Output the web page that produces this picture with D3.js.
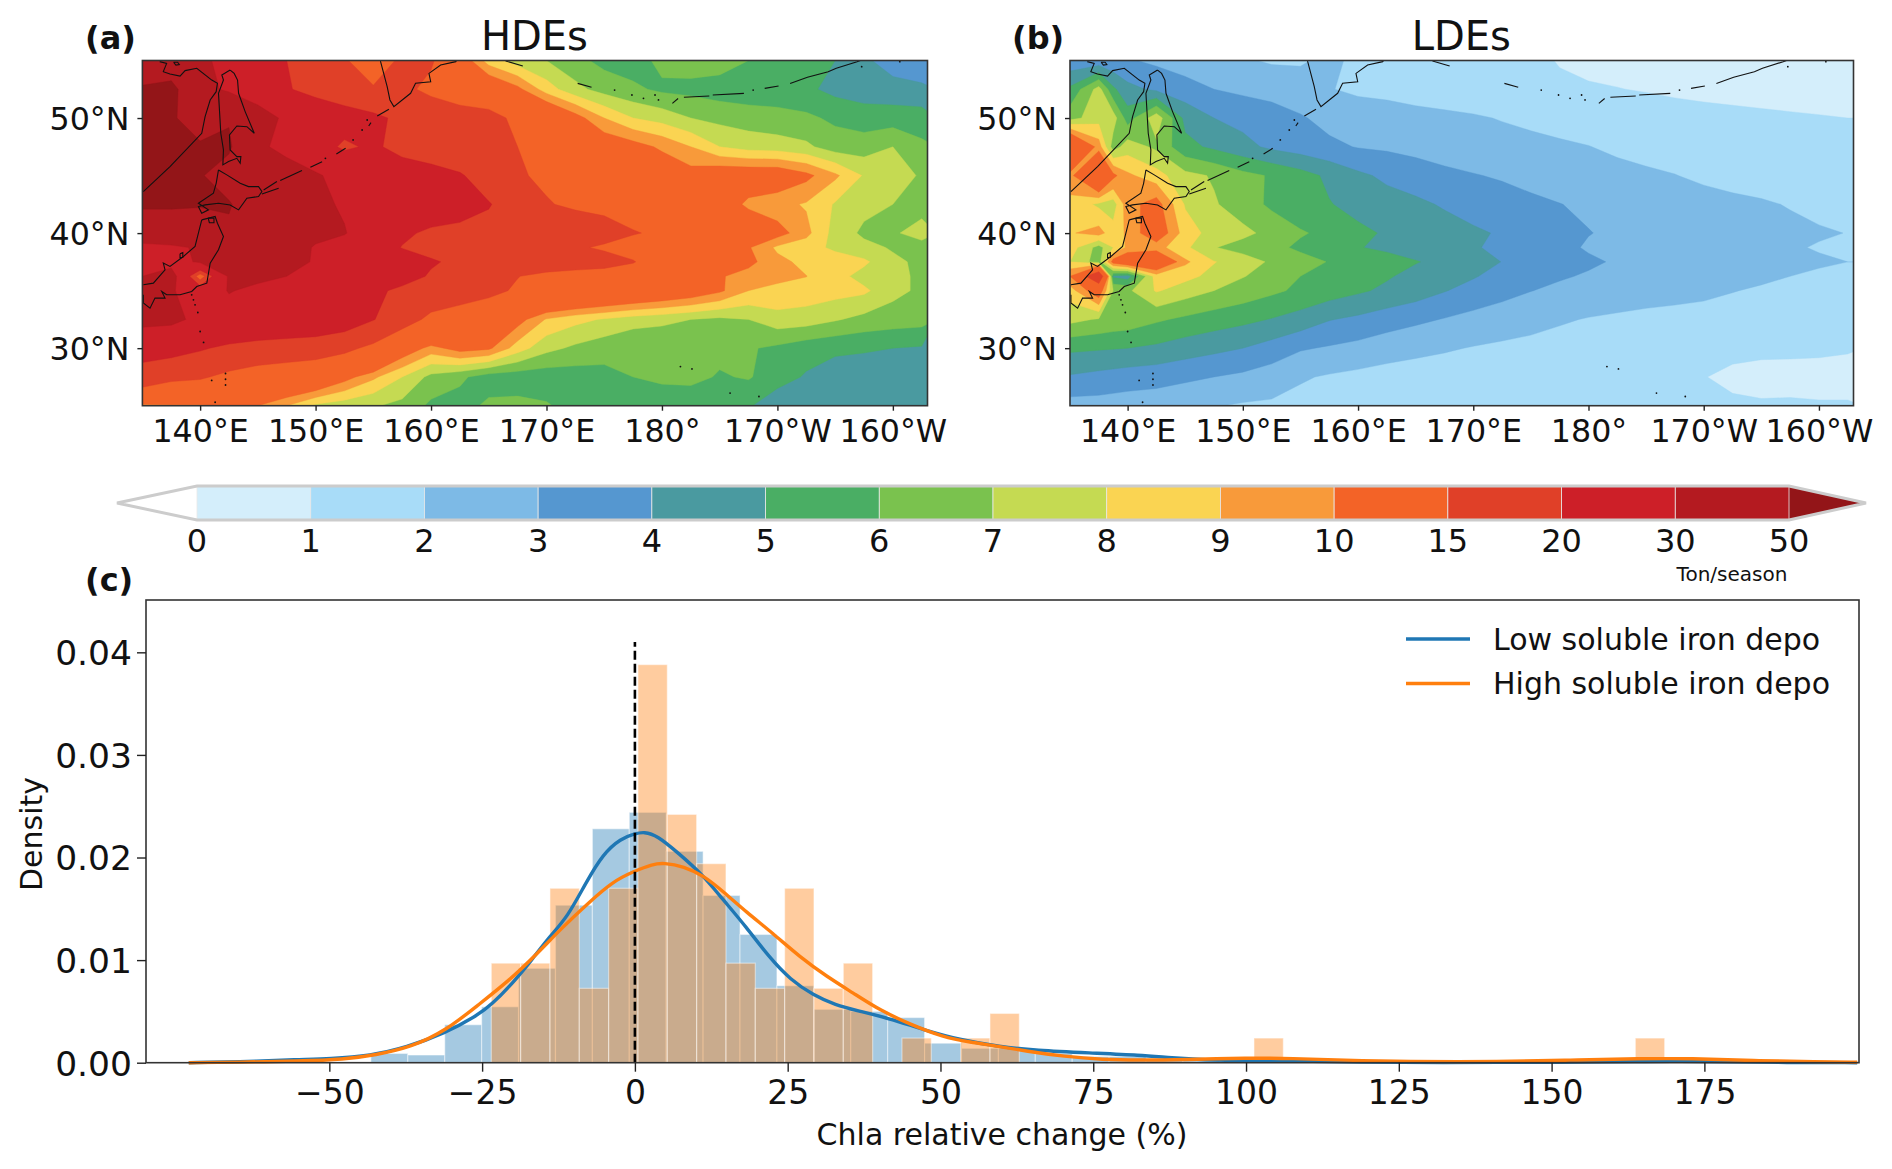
<!DOCTYPE html>
<html>
<head>
<meta charset="utf-8">
<script src="https://cdn.jsdelivr.net/npm/d3@7"></script>
<style>
  html, body { margin: 0; background: #fff; }
  text { font-family: "DejaVu Sans", sans-serif; fill: #111; }
</style>
</head>
<body>
<svg id="chart" width="1892" height="1169"></svg>
<script>
// colour levels in Ton/season
const levels = [0, 1, 2, 3, 4, 5, 6, 7, 8, 9, 10, 15, 20, 30, 50];
const levelColors = ["#d4eefb", "#a8dcf8", "#7dbae6", "#5597d0", "#4a9aa0", "#4aae64", "#7ac24e", "#c5da52",
  "#fad452", "#f89a3a", "#f36327", "#e04028", "#cd1f28", "#b41a20", "#931518"];

// grids
const gridLats = [55, 52.5, 50, 47.5, 45, 42.5, 40, 38.75, 37.5, 36.25, 35, 32.5, 30, 27.5, 25];
const hdeLons = [135, 137.5, 140, 142.5, 145, 147.5, 150, 152.5, 155, 157.5, 160, 162.5, 165, 167.5, 170, 172.5, 175, 177.5, 180, 182.5, 185, 187.5, 190, 192.5, 195, 197.5, 200, 202.5];
const ldeLons = [135, 137.5, 138.75, 140, 142.5, 145, 147.5, 150, 152.5, 155, 157.5, 160, 162.5, 165, 167.5, 170, 172.5, 175, 177.5, 180, 182.5, 185, 187.5, 190, 192.5, 195, 197.5, 200, 202.5];
const hdeField = [
  [38,38,32,27,24,20,18,15.5,12,16,15.5,11,8.5,7.5,7,6.3,5.7,5.5,6.3,6.5,6.5,6,5.5,5.3,5,4.2,3.5,3.3],
  [52,55,34,28,24,20.5,18,16,15.5,16,14,12.5,11.5,10.3,8.5,7.3,6.6,6.2,5.8,5.7,5.5,5.4,5.5,5.2,4.7,4.5,4.4,4.2],
  [55,52,42,49,35,28,25,23,21,19,18,17,16.5,14,12,10.5,9,8,7.6,7,6.7,6.5,6.3,6.2,5.8,5.5,5.5,5.5],
  [60,55,52,52,32,27,23,19,21,18,17,16,15.5,15,13,12,11,10.5,9.8,9,8,7.6,7.5,7.2,6.5,6.5,7,6.2],
  [52,55,51,44,38,35,31,27,25,23.5,22,20.5,17.5,15.3,14.5,13.5,13,12,11,10.5,11,11,11,10.3,9.2,7.9,7.4,6.9],
  [51,51,51,51,42,37,32,29,27,25.5,24,22.5,20.3,17.5,15.2,14.5,14,13.5,13,12.5,11,9.7,9.3,8.9,7.9,7.3,7,6.7],
  [45,45,42,48,44,38,33,30.5,24.5,21,19,18.5,18.5,18,17.5,17,16.5,15.2,14.5,13,12,11.5,10.5,9.3,7.6,6.8,6.9,7.3],
  [24,27,32,37,37,36,29,26,23,19.8,18.5,18,17.5,17,16.5,15.5,14.5,13.7,13,12.2,11.4,10.1,8.8,8.4,7.8,7.3,6.9,6.7],
  [25,27,31,35,34,32,29.5,27,25.5,23,20.5,19,18.5,18,17.5,17,16.5,15.2,13,12,11,10.3,9.3,8.7,8.5,8.2,7.2,6.8],
  [30,34,12,31,32,30,27,25.5,24,22,19.5,18,16.5,15.1,14,13.5,13.2,13,12.5,11.7,10.1,9.6,9.2,9.02,8.4,7.6,7.3,6.8],
  [31,31,24,30.5,28,26,25,24,21,19,18,17,16,14.5,13.5,13,12.5,12,11.5,11,10.2,9,8.8,8.6,8.4,8.2,7.3,6.8],
  [33,32,28,26,25.5,25,24.5,23,20.2,17,14,13,12,10.5,8.9,8.3,7.9,7.5,7.3,7,6.8,7,7.6,7.5,7.1,6.7,6.5,6.4],
  [22,22,20.5,19,18,17.5,17,16,14,11,9.6,10.5,10.2,8.5,7.3,6.8,6.4,6,6,6.4,6.3,6.1,5.8,5.4,5.2,5.1,5,4.9],
  [18,16,15.5,14,13,12.5,12,10.5,9.2,8,6.7,6.2,5.5,5.4,5.4,5.5,5.7,6,6.2,6.3,5.9,6.1,5.4,4.9,4.5,4.5,4.6,4.6],
  [9.6,9.8,9.8,10,10,9,7.8,7.4,7.1,6.7,5.8,5.6,6.2,6.3,6.1,5.6,5.5,5.4,5.4,5.3,5.2,5.1,4.4,4.2,4.3,4.4,4.5,4.5]
];
const ldeField = [
  [3.3,3.3,3.2,3.1,2.8,2.5,2.2,2.1,1.9,1.9,2.2,1.8,1.6,1.55,1.5,1.45,1.35,1.2,.95,.8,.75,.7,.7,.7,.7,.7,.7,.7,.7],
  [5.2,7.4,5.2,4.3,3.8,3.4,3,2.8,2.6,2.4,2.05,1.8,1.7,1.6,1.5,1.4,1.3,1.25,1.15,1.08,1.02,.95,.85,.8,.75,.7,.65,.62,.6],
  [6.6,7.6,7.5,5.5,7.6,4.7,4,3.7,3.5,3.1,2.7,2.6,2.5,2.3,2.2,2.1,1.95,1.8,1.7,1.6,1.5,1.4,1.35,1.25,1.2,1.15,1.1,1.05,1],
  [13,9.5,6.5,7.5,6.8,5.3,4.8,4.3,3.8,3.5,3.2,2.95,2.85,2.7,2.6,2.45,2.35,2.25,2.12,2.02,1.85,1.75,1.65,1.55,1.45,1.35,1.3,1.2,1.15],
  [9.6,13,10.3,9.2,8.4,7.3,6.9,6.3,5.9,5.4,4.8,4.2,3.8,3.5,3.2,3.05,2.9,2.7,2.55,2.4,2.25,2.12,2.02,1.85,1.7,1.6,1.5,1.35,1.25],
  [8.7,7.8,7.5,9.6,10.5,7.9,7.1,6.5,5.8,5.4,5.05,4.7,4.4,4.2,3.9,3.6,3.4,3.2,3.02,2.85,2.7,2.55,2.45,2.3,2.2,2.1,1.95,1.75,1.6],
  [8.9,9.4,8.4,9.2,11,8.5,7.6,7.25,6.7,6.1,5.75,5.2,4.9,4.65,4.4,4.15,3.9,3.6,3.3,3.03,2.85,2.7,2.6,2.5,2.4,2.3,2.2,2.1,1.98],
  [8.5,6.6,8,9.2,9.4,8.2,7.05,6.6,6.3,5.8,5.5,5.05,4.8,4.6,4.35,4.08,3.8,3.55,3.25,2.9,2.75,2.65,2.55,2.45,2.35,2.25,2.1,1.93,1.85],
  [8,6.5,10.5,11.5,12,9.2,8.05,7.5,6.85,6.4,5.95,5.7,5.4,5.05,4.75,4.4,3.98,3.7,3.4,3.15,2.9,2.75,2.65,2.55,2.45,2.35,2.25,2.12,2],
  [10,19,4.8,4.5,8.5,8.3,7.7,7.05,6.6,6,5.7,5.4,5.1,4.7,4.4,4.08,3.65,3.35,3.1,2.9,2.7,2.6,2.5,2.4,2.3,2.15,2,1.85,1.75],
  [8.5,11,7,6.8,8.1,7.5,7,6.6,6.2,5.8,5.5,5.15,4.8,4.5,4.05,3.65,3.35,3.02,2.8,2.65,2.5,2.4,2.3,2.2,2.03,1.9,1.8,1.7,1.6],
  [7.3,6.9,6.7,6.6,6.15,5.8,5.5,5.25,4.95,4.6,4.05,3.8,3.5,3.2,2.95,2.7,2.45,2.3,2.1,1.95,1.85,1.75,1.7,1.65,1.6,1.55,1.5,1.45,1.4],
  [5.2,5.1,5.05,5,4.8,4.5,4.25,4,3.6,3.1,2.9,2.7,2.4,2.25,2.1,1.95,1.85,1.75,1.65,1.55,1.45,1.4,1.35,1.3,1.25,1.2,1.15,1.1,1.05],
  [3.9,3.7,3.6,3.5,3.4,3.2,3,2.8,2.5,2.1,1.9,1.75,1.65,1.55,1.5,1.45,1.4,1.35,1.3,1.25,1.2,1.15,1.1,1.03,.8,.7,.75,.8,.8],
  [2.6,2.6,2.55,2.5,2.4,2.2,2.05,1.9,1.85,1.7,1.6,1.55,1.5,1.5,1.45,1.45,1.4,1.4,1.35,1.35,1.3,1.3,1.25,1.2,1.15,1.1,1.1,1.05,1.05]
];

// coastlines, lon/lat (lon runs past 180 to stay continuous)
const coastLines = [
  [[135.08,43.61],[137.39,45.78],[140.14,48.67],[140.43,50.12],[140.87,51.57],[141.39,52.29],[141.5,53.02],[141.01,53.3],[139.71,54.32],[138.7,54.12],[138.26,53.65],[137.39,53.83],[136.81,54.03],[137.1,54.75],[136.5,54.9]],
  [[137.7,54.85],[138.05,54.85],[138.2,54.65],[137.9,54.6],[137.7,54.85]],
  [[142.6,54.17],[142.95,53.88],[143.24,53.3],[143.33,52.15],[143.9,50.56],[144.69,48.68],[144.05,49.25],[143.18,49.31],[142.54,48.53],[142.6,47.23],[143.18,46.65],[143.53,46.65],[143.47,46.07],[143.18,46.5],[142.46,46.22],[141.97,45.93],[142.02,47.23],[141.79,48.68],[141.59,52.15],[142.02,53.3],[141.88,53.74],[142.6,54.17]],
  [[141.59,45.49],[142.31,45.06],[143.47,44.33],[144.19,44.04],[145.06,44.04],[145.35,43.61],[145.06,43.18],[144.05,43.03],[143.33,42.02],[142.6,42.45],[141.59,42.6],[140.43,42.45],[139.85,42.31],[140.14,41.73],[140.72,42.02],[139.85,42.6],[141.15,43.47],[141.39,44.33],[141.59,45.49]],
  [[140.14,41.15],[141.3,41.44],[141.5,40.86],[142.02,39.7],[141.59,38.55],[140.87,37.39],[140.58,35.65],[139.71,35.36],[139.27,34.93],[138.26,34.64],[137.1,34.64],[136.67,34.93],[136.96,34.35],[136.09,34.35],[135.66,33.48],[135.08,33.92],[135.08,34.64]],
  [[135.08,35.51],[135.95,35.65],[136.96,36.81],[136.81,37.39],[137.39,37.1],[138.55,37.97],[139.56,38.84],[139.85,40],[140.14,41.15]],
  [[138.26,38.2],[138.5,38.3],[138.5,37.9],[138.26,37.85],[138.26,38.2]],
  [[140.7,41.3],[141.2,41.3],[141.2,40.9],[140.8,40.9],[140.7,41.3]],
  [[145.5,43.75],[146.65,44.48]],
  [[145.35,43.4],[146.8,43.9]],
  [[146.94,44.57],[148.82,45.43]],
  [[149.55,45.72],[150.56,46.2]],
  [[151.8,46.88],[152.6,47.37]],
  [[154.6,49.31],[154.8,49.6]],
  [[155.34,50.18],[156.35,50.76]],
  [[155.57,55.3],[155.63,54.9],[156.2,52.73],[156.44,51.57],[156.78,50.99],[158.23,52.15],[158.66,53.02],[159.97,53.16],[159.82,53.88],[160.83,54.61],[162.14,54.9],[162.4,55.3]],
  [[166.46,54.96],[167.95,54.52]],
  [[172.7,53.01],[173.9,52.67]],
  [[180.9,51.28],[181.4,51.7]],
  [[181.9,51.8],[184.1,51.91]],
  [[184.4,52],[187.1,52.14]],
  [[188.9,52.58],[190.1,52.78]],
  [[191.1,53],[192.6,53.54],[194.4,54.03],[195.1,54.32],[196.9,54.9],[198,55.3]]
];
const islandDots = [
  [150.85,46.5],[153.25,48.1],[154.03,48.96],[154.47,49.83],[175.9,52.43],[177.4,52],[178.4,51.71],[179.4,52],[179.7,51.57],
  [187.9,52.43],[197.3,54.46],[200.6,54.9],[139.27,34.64],[139.42,34.2],[139.56,33.77],[139.8,33.1],[140,31.45],[140.3,30.5],
  [142.2,27.8],[142.2,27.3],[142.2,26.8],[141.3,25.3],[141,27.2],[181.6,28.4],[182.6,28.2],[185.9,26.1],[188.4,25.8]
];

const lonTicks = [140, 150, 160, 170, 180, 190, 200];
const lonTickLabels = ["140°E", "150°E", "160°E", "170°E", "180°", "170°W", "160°W"];
const latTicks = [30, 40, 50];

// histograms: first left edge, bin width, then density per bin
const lowBinStart = -43.2, lowBinWidth = 6.04;
const lowHist = [.0009,.00075,.0037,.00545,.0092,.01535,.0228,.0244,.0206,.0163,.0125,.0075,.0052,.005,.0044,.0019,.0014,.0014,.0009,.0006,.0006,.00035,.0002,.00012,.00015,0,0,0,0,0,0,0,0,0,0,.00002,.00015];
const highBinStart = -23.5, highBinWidth = 4.8;
const highHist = [.0097,.0097,.017,.00725,.017,.0388,.0242,.0194,.0097,.00725,.017,.00725,.0097,0,.0024,0,.0024,.0048,0,0,0,0,0,0,0,0,.0024,0,0,0,0,0,0,0,0,0,0,0,0,.0024];

// density curves
const lowKdeX = [-73,-65,-54.9,-50,-43.2,-37.4,-31.1,-25.7,-23.5,-19.8,-16.9,-14,-11,-8.1,-5.2,-2.3,0,1.5,3.6,7.2,10.9,14.5,18.2,21.9,25.5,29.2,32.8,36.5,41.6,47.4,53.3,59.7,65.6,74.4,82.7,87.9,93,100.3,109.6,118,131,152,164.6,170.8,179,188,200];
const lowKdeY = [0,.00008,.00032,.00039,.00068,.0015,.00286,.00464,.00562,.00789,.01,.01227,.01422,.01746,.02038,.02185,.02233,.0225,.02217,.02038,.01844,.01584,.01324,.01032,.00805,.00659,.00562,.00506,.00432,.00318,.00221,.00156,.0012,.00095,.00074,.00046,.00028,.00018,.00015,.00005,.00002,.00003,.00013,.00016,.00008,.00002,0];
const highKdeX = [-73,-65,-54.9,-47.6,-42.5,-36.6,-30.8,-25.7,-20.5,-16.2,-11.8,-7.4,-3.7,0,2.9,4.7,8,11.3,14.5,18.2,22.6,27,31.4,35.7,40.1,45.2,50.4,54.8,59.5,64,70.3,76.5,82.7,90,100.3,107.6,115.9,126,141.8,153,164.6,172.8,183,193.6,200];
const highKdeY = [0,.00005,.00016,.00032,.00075,.0015,.00318,.0056,.00805,.0105,.01324,.01568,.01763,.0187,.01935,.01948,.01915,.01821,.01665,.0147,.0126,.0103,.0084,.0068,.0051,.0037,.0025,.002,.0016,.00113,.0006,.0003,.00025,.0003,.00046,.00042,.00025,.0001,.0001,.00025,.0004,.00042,.0002,.0001,.00005];
const histXTicks = [-50, -25, 0, 25, 50, 75, 100, 125, 150, 175];
const histYTicks = [0, .01, .02, .03, .04];
const legendNames = ["Low soluble iron depo", "High soluble iron depo"];
const seriesColors = ["#1f77b4", "#ff7f0e"];

const svg = d3.select("#chart");
const defs = svg.append("defs");

function drawMap(id, lons, field, title, tag, tagX, left, right) {
  const x = d3.scaleLinear().domain([135, 203]).range([left, right]);
  const y = d3.scaleLinear().domain([25, 55]).range([405.7, 60.5]);
  const g = svg.append("g");

  defs.append("clipPath").attr("id", id)
    .append("rect")
    .attr("x", x(135)).attr("y", y(55))
    .attr("width", x(203) - x(135)).attr("height", y(25) - y(55));

  // grid index to map position, the grids are not evenly spaced
  const colToLon = d3.scaleLinear().domain(lons.map((d, i) => i + 0.5)).range(lons);
  const rowToLat = d3.scaleLinear().domain(gridLats.map((d, i) => i + 0.5)).range(gridLats);
  const gridToScreen = d3.geoTransform({
    point: function (px, py) {
      this.stream.point(x(colToLon(px)), y(rowToLat(py)));
    }
  });
  const path = d3.geoPath().projection(gridToScreen);
  const contours = d3.contours()
    .size([lons.length, gridLats.length])
    .thresholds(levels)(field.flat());

  const map = g.append("g").attr("clip-path", `url(#${id})`);
  map.selectAll("path.band")
    .data(contours)
    .enter().append("path")
    .attr("class", "band")
    .attr("d", path)
    .attr("fill", d => levelColors[levels.indexOf(d.value)])
    .attr("stroke", d => levelColors[levels.indexOf(d.value)])
    .attr("stroke-width", 0.4);

  const line = d3.line().x(d => x(d[0])).y(d => y(d[1]));
  map.selectAll("path.coast")
    .data(coastLines)
    .enter().append("path")
    .attr("class", "coast")
    .attr("d", line)
    .attr("fill", "none")
    .attr("stroke", "#111")
    .attr("stroke-width", 1.1);
  map.selectAll("circle.dot")
    .data(islandDots)
    .enter().append("circle")
    .attr("class", "dot")
    .attr("cx", d => x(d[0]))
    .attr("cy", d => y(d[1]))
    .attr("r", 0.9)
    .attr("fill", "#111");

  g.append("rect")
    .attr("x", x(135)).attr("y", y(55))
    .attr("width", x(203) - x(135)).attr("height", y(25) - y(55))
    .attr("fill", "none")
    .attr("stroke", "#333")
    .attr("stroke-width", 1.6);

  const xAxis = g.append("g").attr("transform", `translate(0,${y(25)})`)
    .call(d3.axisBottom(x).tickValues(lonTicks).tickSize(5).tickFormat((d, i) => lonTickLabels[i]));
  const yAxis = g.append("g").attr("transform", `translate(${x(135)},0)`)
    .call(d3.axisLeft(y).tickValues(latTicks).tickSize(5).tickFormat(d => d + "°N"));
  [xAxis, yAxis].forEach(a => {
    a.select(".domain").remove();
    a.selectAll("line").attr("stroke", "#222").attr("stroke-width", 1.4);
    a.selectAll("text").attr("font-size", 31.7).attr("font-family", "DejaVu Sans");
  });
  xAxis.selectAll("text").attr("y", 0).attr("dy", 0).attr("transform", "translate(0,36)");
  yAxis.selectAll("text").attr("x", -13).attr("dy", "0.36em");

  g.append("text").attr("x", (left + right) / 2 - 0.5).attr("y", 50)
    .attr("text-anchor", "middle").attr("font-size", 40).text(title);
  g.append("text").attr("x", tagX).attr("y", 49)
    .attr("font-size", 32).attr("font-weight", "bold").text(tag);
}

drawMap("clipA", hdeLons, hdeField, "HDEs", "(a)", 85, 142.4, 927.5);
drawMap("clipB", ldeLons, ldeField, "LDEs", "(b)", 1012, 1070, 1853.5);

// colour bar
const barG = svg.append("g");
const barX = d3.scalePoint().domain(levels).range([197, 1789]);
const barTop = 486, barBottom = 520, barMid = (barTop + barBottom) / 2;
const barStep = barX.step();
barG.append("path")
  .attr("d", `M${barX(0)},${barTop}L${barX(0) - 80},${barMid}L${barX(0)},${barBottom}Z`)
  .attr("fill", "#fff");
barG.append("path")
  .attr("d", `M${barX(50)},${barTop}L${barX(50) + 77},${barMid}L${barX(50)},${barBottom}Z`)
  .attr("fill", levelColors[14]);
barG.selectAll("rect.box")
  .data(levels.slice(0, 14))
  .enter().append("rect")
  .attr("class", "box")
  .attr("x", d => barX(d))
  .attr("y", barTop)
  .attr("width", barStep)
  .attr("height", barBottom - barTop)
  .attr("fill", (d, i) => levelColors[i])
  .attr("stroke", "#e8e8e8")
  .attr("stroke-width", 0.8);
barG.append("path")
  .attr("d", `M${barX(0) - 80},${barMid}L${barX(0)},${barTop}L${barX(50)},${barTop}L${barX(50) + 77},${barMid}L${barX(50)},${barBottom}L${barX(0)},${barBottom}Z`)
  .attr("fill", "none")
  .attr("stroke", "#ccc")
  .attr("stroke-width", 3);
barG.selectAll("text.tick")
  .data(levels)
  .enter().append("text")
  .attr("class", "tick")
  .attr("x", d => barX(d))
  .attr("y", 552)
  .attr("text-anchor", "middle")
  .attr("font-size", 32)
  .text(d => d);
barG.append("text")
  .attr("x", 1732).attr("y", 581)
  .attr("text-anchor", "middle").attr("font-size", 20).text("Ton/season");

// panel c
const histX = d3.scaleLinear().domain([-80, 200.3]).range([146, 1859]);
const histY = d3.scaleLinear().domain([0, .0451]).range([1062.7, 600]);
const c = svg.append("g");

function drawHist(values, start, width, color) {
  c.append("g").selectAll("rect")
    .data(values.map((v, i) => ({ x0: start + i * width, x1: start + (i + 1) * width, v: v })).filter(d => d.v > 0))
    .enter().append("rect")
    .attr("x", d => histX(d.x0))
    .attr("y", d => histY(d.v))
    .attr("width", d => histX(d.x1) - histX(d.x0))
    .attr("height", d => histY(0) - histY(d.v))
    .attr("fill", color)
    .attr("fill-opacity", 0.4)
    .attr("stroke", "#fff")
    .attr("stroke-opacity", 0.45)
    .attr("stroke-width", 1.2);
}
drawHist(lowHist, lowBinStart, lowBinWidth, seriesColors[0]);
drawHist(highHist, highBinStart, highBinWidth, seriesColors[1]);

const kde = d3.line().curve(d3.curveBasis).x(d => histX(d[0])).y(d => histY(d[1]));
c.append("path").datum(d3.zip(lowKdeX, lowKdeY)).attr("d", kde)
  .attr("fill", "none").attr("stroke", seriesColors[0]).attr("stroke-width", 3.4);
c.append("path").datum(d3.zip(highKdeX, highKdeY)).attr("d", kde)
  .attr("fill", "none").attr("stroke", seriesColors[1]).attr("stroke-width", 3.4);

c.append("line")
  .attr("x1", histX(0)).attr("x2", histX(0))
  .attr("y1", histY(0)).attr("y2", histY(.041))
  .attr("stroke", "#000").attr("stroke-width", 2.6).attr("stroke-dasharray", "9,4");

c.append("rect")
  .attr("x", histX(-80)).attr("y", histY(.0451))
  .attr("width", histX(200.3) - histX(-80)).attr("height", histY(0) - histY(.0451))
  .attr("fill", "none").attr("stroke", "#333").attr("stroke-width", 1.6);

const cx = c.append("g").attr("transform", `translate(0,${histY(0)})`)
  .call(d3.axisBottom(histX).tickValues(histXTicks).tickSize(9).tickFormat(d => d < 0 ? "−" + (-d) : d));
const cy = c.append("g").attr("transform", `translate(${histX(-80)},0)`)
  .call(d3.axisLeft(histY).tickValues(histYTicks).tickSize(9).tickFormat(d3.format(".2f")));
[cx, cy].forEach(a => {
  a.select(".domain").remove();
  a.selectAll("line").attr("stroke", "#222").attr("stroke-width", 1.4);
  a.selectAll("text").attr("font-size", 33).attr("font-family", "DejaVu Sans");
});
cx.selectAll("text").attr("y", 0).attr("dy", 0).attr("transform", "translate(0,41)");
cy.selectAll("text").attr("font-size", 34.5).attr("x", -14).attr("dy", "0.36em");

c.append("text").attr("x", 1002).attr("y", 1145)
  .attr("text-anchor", "middle").attr("font-size", 30).text("Chla relative change (%)");
c.append("text").attr("transform", "translate(42,834) rotate(-90)")
  .attr("text-anchor", "middle").attr("font-size", 30).text("Density");
c.append("text").attr("x", 85).attr("y", 591)
  .attr("font-size", 32).attr("font-weight", "bold").text("(c)");

const legend = c.append("g").selectAll("g")
  .data(legendNames)
  .enter().append("g")
  .attr("transform", (d, i) => `translate(0,${639 + i * 44.5})`);
legend.append("line")
  .attr("x1", 1406).attr("x2", 1470)
  .attr("stroke", (d, i) => seriesColors[i]).attr("stroke-width", 3.4);
legend.append("text")
  .attr("x", 1493).attr("dy", "0.36em")
  .attr("font-size", 30).text(d => d);
</script>
</body>
</html>
